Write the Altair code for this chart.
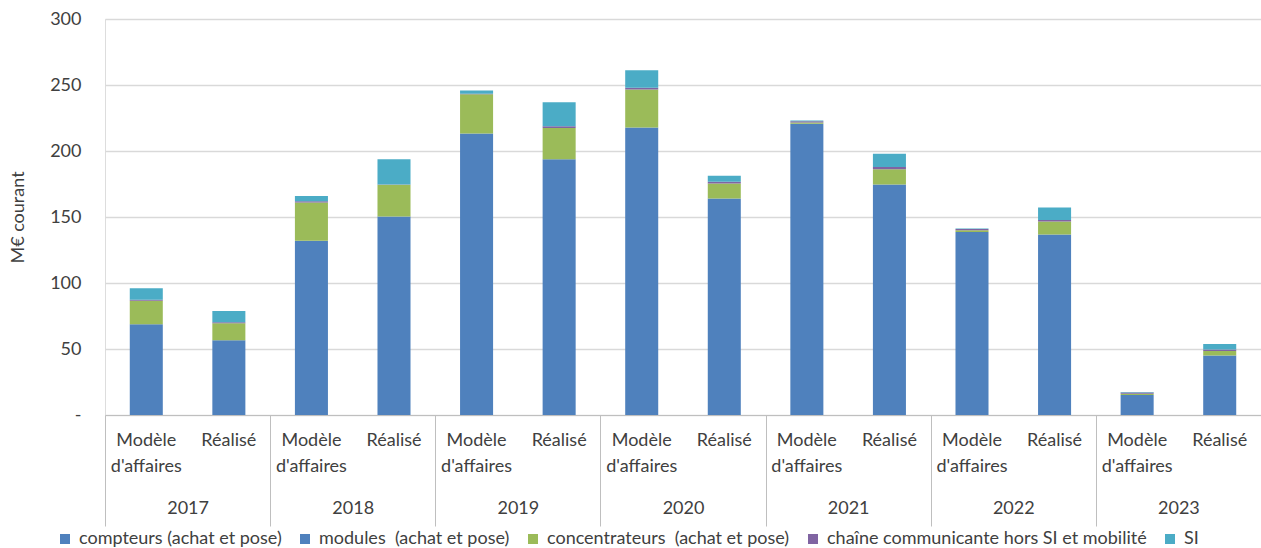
import altair as alt
import pandas as pd

years = ["2017", "2018", "2019", "2020", "2021", "2022", "2023"]
types = ["Modèle d'affaires", "Réalisé"]
series = [
    "compteurs (achat et pose)",
    "modules \u00a0(achat et pose)",
    "concentrateurs \u00a0(achat et pose)",
    "chaîne communicante hors SI et mobilité",
    "SI",
]
colors = ["#4F81BD", "#4F81BD", "#9BBB59", "#8064A2", "#4BACC6"]

# values per bar: (year, Modèle d'affaires), (year, Réalisé) ...
compteurs = [68.8, 56.7, 132.0, 150.4, 213.3, 193.7, 217.8, 164.0, 220.6, 174.6, 138.6, 136.8, 15.1, 45.0]
modules = [0, 0, 0, 0, 0, 0, 0, 0, 0, 0, 0, 0, 0, 0]
concentrateurs = [17.7, 12.9, 29.0, 24.0, 29.7, 23.8, 28.8, 11.4, 1.0, 11.6, 1.3, 9.8, 1.0, 3.5]
chaine = [0.9, 0.7, 1.0, 0.3, 0.4, 1.3, 1.3, 1.3, 1.0, 1.7, 1.0, 1.1, 1.0, 1.1]
si = [8.6, 8.4, 4.0, 19.0, 2.5, 18.2, 13.3, 4.5, 0.5, 10.1, 0.3, 9.5, 0.3, 4.2]

all_vals = [compteurs, modules, concentrateurs, chaine, si]

rows = []
keys = []
for i, yr in enumerate(years):
    for j, t in enumerate(types):
        k = f"{yr}|{t}"
        keys.append(k)
        idx = 2 * i + j
        for s_i, (s, vals) in enumerate(zip(series, all_vals)):
            rows.append(dict(key=k, year=yr, type=t, serie=s, order=s_i, value=vals[idx]))
df = pd.DataFrame(rows)

FONT = "Lato"
TXT = "#404040"
GRID = "#D9D9D9"

bars = alt.Chart(df).mark_bar().encode(
    x=alt.X(
        "key:N",
        sort=keys,
        scale=alt.Scale(domain=keys, paddingInner=0.6, paddingOuter=0.3),
        axis=alt.Axis(
            title=None,
            orient="bottom",
            labelExpr="split(split(datum.label, '|')[1], ' ')",
            labelAngle=0,
            domain=False,
            ticks=False,
            labelPadding=16,
            labelFontSize=18,
            labelLineHeight=26,
            labelColor=TXT,
            labelFont=FONT,
        ),
    ),
    y=alt.Y(
        "value:Q",
        stack="zero",
        scale=alt.Scale(domain=[0, 300]),
        axis=alt.Axis(
            title="M€ courant",
            values=[0, 50, 100, 150, 200, 250, 300],
            labelExpr="datum.value == 0 ? '-\u00a0\u00a0\u00a0' : datum.label",
            domain=False,
            ticks=False,
            grid=True,
            gridColor=GRID,
            gridWidth=1.5,
            labelPadding=24,
            labelFontSize=18,
            labelColor=TXT,
            labelFont=FONT,
            titleFont=FONT,
            titleFontSize=18,
            titleFontWeight="normal",
            titleColor=TXT,
            titlePadding=22,
        ),
    ),
    color=alt.Color(
        "serie:N",
        scale=alt.Scale(domain=series, range=colors),
        legend=alt.Legend(
            title=None,
            orient="none",
            direction="horizontal",
            columns=5,
            legendX=-49,
            legendY=511,
            symbolType="square",
            symbolSize=100,
            symbolStrokeWidth=0,
            symbolOpacity=1,
            labelFontSize=18,
            labelFont=FONT,
            labelColor=TXT,
            columnPadding=14,
            labelOffset=5,
            labelLimit=500,
        ),
    ),
    order=alt.Order("order:Q"),
)

year_axis = alt.Chart(df).mark_point(opacity=0).encode(
    x=alt.X(
        "year:N",
        sort=years,
        scale=alt.Scale(type="band", domain=years, paddingInner=0, paddingOuter=0),
        axis=alt.Axis(
            title=None,
            orient="bottom",
            labelAngle=0,
            tickBand="extent",
            tickSize=111,
            tickColor="#BFBFBF",
            domainColor="#BFBFBF",
            labelPadding=-27,
            labelFontSize=18,
            labelColor=TXT,
            labelFont=FONT,
        ),
    ),
    y=alt.value(0),
)

chart = (
    alt.layer(bars, year_axis)
    .resolve_scale(x="independent")
    .properties(
        width=1156,
        height=396,
        autosize=alt.AutoSizeParams(type="none"),
        padding={"left": 105, "top": 19, "right": 0, "bottom": 133},
    )
    .configure_view(stroke=None)
    .configure(background="white")
)

chart.save("out.html", embed_options={"renderer": "svg", "actions": False})
